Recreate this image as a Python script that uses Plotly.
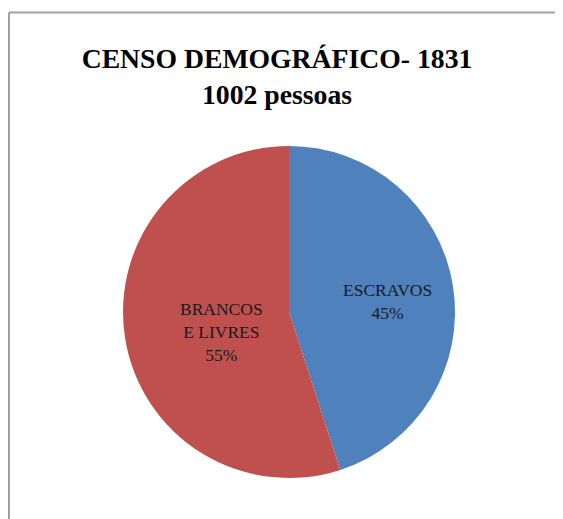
import plotly.graph_objects as go

# Censo demográfico 1831 - 1002 pessoas
labels = ['ESCRAVOS', 'BRANCOS<br>E LIVRES']
shares = [45, 55]
colors = ['#4F81BD', '#C0504D']

SERIF = 'Liberation Serif, Times New Roman, Times, serif'
W, H = 555, 511          # page body adds an 8px margin
CX, CY, R = 281, 304, 166  # pie centre / radius in figure pixels

fig = go.Figure(go.Pie(
    labels=labels,
    values=shares,
    sort=False,
    direction='clockwise',
    rotation=0,
    marker=dict(colors=colors, line=dict(width=0)),
    textinfo='none',
    domain=dict(x=[(CX - R) / W, (CX + R) / W],
                y=[(H - CY - R) / H, (H - CY + R) / H]),
    hoverinfo='label+percent',
    showlegend=False,
))

# slice labels, placed like the Excel data labels
label_pos = [(379, 293), (213, 324)]
total = sum(shares)
for lab, val, (px_, py_) in zip(labels, shares, label_pos):
    fig.add_annotation(
        text=f'{lab}<br>{round(100 * val / total)}%',
        xref='paper', yref='paper', x=px_ / W, y=1 - py_ / H,
        xanchor='center', yanchor='middle', showarrow=False,
        font=dict(family=SERIF, size=17.5, color='#1a1a1a'),
    )

fig.update_layout(
    width=W, height=H,
    margin=dict(l=0, r=0, t=0, b=0),
    paper_bgcolor='white',
    title=dict(
        text='<b>CENSO DEMOGRÁFICO- 1831<br>1002 pessoas</b>',
        font=dict(family=SERIF, size=27.7, color='black'),
        x=269 / W, xanchor='center',
        y=1 - 60 / H, yanchor='top',
    ),
    # chart-area frame (only top and left edges are visible in the crop)
    shapes=[
        dict(type='line', xref='paper', yref='paper',
             x0=1 / W, x1=1.02, y0=1 - 4.5 / H, y1=1 - 4.5 / H,
             line=dict(color='#a0a0a0', width=2)),
        dict(type='line', xref='paper', yref='paper',
             x0=1 / W, x1=1 / W, y0=-0.02, y1=1 - 4.5 / H,
             line=dict(color='#a0a0a0', width=2)),
    ],
)

fig.write_html('out.html')
